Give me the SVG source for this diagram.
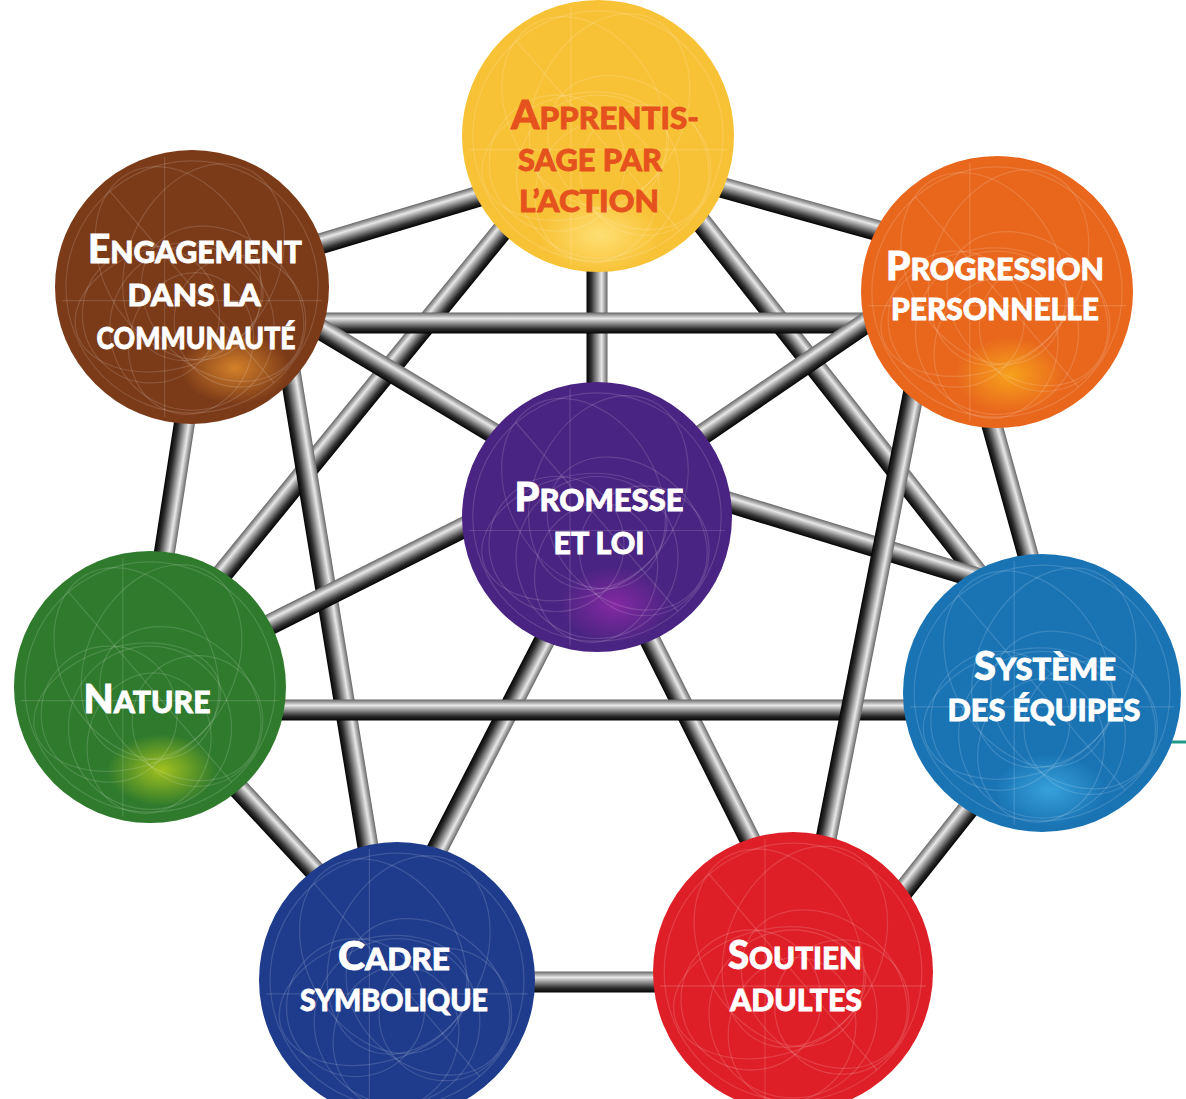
<svg xmlns="http://www.w3.org/2000/svg" width="1186" height="1099" viewBox="0 0 1186 1099">
<style>
.lbl{font-family:Lato,"Open Sans","Liberation Sans",sans-serif;font-weight:900;font-size:31px;fill:#fff;stroke:#fff;stroke-width:.8;text-anchor:middle}
.org{fill:#e5521e;stroke:#e5521e;text-anchor:start}
.big{font-size:40px}
.tube{fill:url(#tubeGrad)}
.tex{fill:none;stroke:#fff;stroke-opacity:.14;stroke-width:.9}
</style>
<defs>
<linearGradient id="tubeGrad" x1="0" y1="0" x2="0" y2="1">
<stop offset="0" stop-color="#666"/>
<stop offset=".28" stop-color="#e8e8e8"/>
<stop offset=".5" stop-color="#959595"/>
<stop offset=".78" stop-color="#2e2e2e"/>
<stop offset="1" stop-color="#030303"/>
</linearGradient>
<radialGradient id="gY"><stop offset="0" stop-color="#ffe27a" stop-opacity=".9"/><stop offset="1" stop-color="#ffe27a" stop-opacity="0"/></radialGradient>
<radialGradient id="gO"><stop offset="0" stop-color="#f8a51c" stop-opacity=".95"/><stop offset="1" stop-color="#f8a51c" stop-opacity="0"/></radialGradient>
<radialGradient id="gB"><stop offset="0" stop-color="#d8842c" stop-opacity=".95"/><stop offset="1" stop-color="#d8842c" stop-opacity="0"/></radialGradient>
<radialGradient id="gP"><stop offset="0" stop-color="#8b2aa6" stop-opacity=".9"/><stop offset="1" stop-color="#8b2aa6" stop-opacity="0"/></radialGradient>
<radialGradient id="gG"><stop offset="0" stop-color="#a8c51e" stop-opacity=".95"/><stop offset="1" stop-color="#a8c51e" stop-opacity="0"/></radialGradient>
<radialGradient id="gL"><stop offset="0" stop-color="#3aa6e0" stop-opacity=".9"/><stop offset="1" stop-color="#3aa6e0" stop-opacity="0"/></radialGradient>
<symbol id="texture" viewBox="-100 -100 200 200">
<g class="tex">
<ellipse cx="0" cy="-20" rx="55" ry="75" transform="rotate(25)"/>
<ellipse cx="0" cy="-20" rx="55" ry="75" transform="rotate(-30)"/>
<ellipse cx="0" cy="30" rx="60" ry="60"/>
<ellipse cx="10" cy="40" rx="45" ry="52" transform="rotate(15)"/>
<ellipse cx="-20" cy="10" rx="70" ry="45" transform="rotate(-15)"/>
<ellipse cx="25" cy="-5" rx="65" ry="50" transform="rotate(40)"/>
<circle cx="0" cy="0" r="92"/>
<circle cx="-30" cy="20" r="50"/>
<circle cx="35" cy="25" r="48"/>
<line x1="-20" y1="-95" x2="-20" y2="95"/>
<line x1="-95" y1="10" x2="95" y2="10"/>
<line x1="-60" y1="-70" x2="60" y2="70"/>
</g>
</symbol>
</defs>
<rect width="1186" height="1099" fill="#fff"/>

<g id="connectors">
<g transform="translate(303,249) rotate(-16.7)"><rect class="tube" x="0" y="-10.5" width="196" height="21"/></g>
<g transform="translate(706,183) rotate(15.5)"><rect class="tube" x="0" y="-10.5" width="192" height="21"/></g>
<g transform="translate(597,250) rotate(90)"><rect class="tube" x="0" y="-10.5" width="150" height="21"/></g>
<g transform="translate(205,595) rotate(-50.8)"><rect class="tube" x="0" y="-10.5" width="490" height="21"/></g>
<g transform="translate(690,208) rotate(51.8)"><rect class="tube" x="0" y="-10.5" width="486" height="21"/></g>
<g transform="translate(300,323)"><rect class="tube" x="0" y="-10.5" width="590" height="21"/></g>
<g transform="translate(305,320) rotate(31)"><rect class="tube" x="0" y="-10.5" width="239" height="21"/></g>
<g transform="translate(188,400) rotate(98.8)"><rect class="tube" x="0" y="-10.5" width="182" height="21"/></g>
<g transform="translate(285,340) rotate(80.7)"><rect class="tube" x="0" y="-10.5" width="536" height="21"/></g>
<g transform="translate(255,632) rotate(-26.6)"><rect class="tube" x="0" y="-10.5" width="257" height="21"/></g>
<g transform="translate(690,443) rotate(-34.3)"><rect class="tube" x="0" y="-10.5" width="237" height="21"/></g>
<g transform="translate(712,497) rotate(17)"><rect class="tube" x="0" y="-10.5" width="296" height="21"/></g>
<g transform="translate(555,620) rotate(117.2)"><rect class="tube" x="0" y="-10.5" width="275" height="21"/></g>
<g transform="translate(640,620) rotate(63.4)"><rect class="tube" x="0" y="-10.5" width="268" height="21"/></g>
<g transform="translate(260,710)"><rect class="tube" x="0" y="-10.5" width="670" height="21"/></g>
<g transform="translate(225,774) rotate(47.2)"><rect class="tube" x="0" y="-10.5" width="147" height="21"/></g>
<g transform="translate(500,982)"><rect class="tube" x="0" y="-10.5" width="190" height="21"/></g>
<g transform="translate(885,914) rotate(-51.6)"><rect class="tube" x="0" y="-10.5" width="171" height="21"/></g>
<g transform="translate(918,370) rotate(101.1)"><rect class="tube" x="0" y="-10.5" width="510" height="21"/></g>
<g transform="translate(985,400) rotate(74.5)"><rect class="tube" x="0" y="-10.5" width="187" height="21"/></g>
<line x1="1163" y1="742" x2="1186" y2="742" stroke="#1f9a86" stroke-width="3"/>
</g>

<g id="node-apprentissage">
<circle cx="598" cy="136" r="136" fill="#f8c236"/>
<ellipse cx="600" cy="235" rx="60" ry="38" fill="url(#gY)"/>
<use href="#texture" x="462" y="0" width="272" height="272" stroke="#fff"/>
<text class="lbl org" x="511" y="129" textLength="188" lengthAdjust="spacingAndGlyphs"><tspan class="big">A</tspan>PPRENTIS-</text>
<text class="lbl org" x="518" y="171" textLength="144" lengthAdjust="spacingAndGlyphs">SAGE PAR</text>
<text class="lbl org" x="519" y="212" textLength="140" lengthAdjust="spacingAndGlyphs">L’ACTION</text>
</g>

<g id="node-progression">
<circle cx="997" cy="292" r="136" fill="#e8671d"/>
<ellipse cx="1010" cy="375" rx="55" ry="38" fill="url(#gO)"/>
<use href="#texture" x="861" y="156" width="272" height="272"/>
<text class="lbl" x="995" y="280" textLength="218" lengthAdjust="spacingAndGlyphs"><tspan class="big">P</tspan>ROGRESSION</text>
<text class="lbl" x="995" y="320" textLength="208" lengthAdjust="spacingAndGlyphs">PERSONNELLE</text>
</g>

<g id="node-engagement">
<circle cx="192" cy="287" r="137" fill="#7b3a18"/>
<ellipse cx="235" cy="368" rx="55" ry="36" fill="url(#gB)"/>
<use href="#texture" x="55" y="150" width="274" height="274"/>
<text class="lbl" x="195" y="263" textLength="214" lengthAdjust="spacingAndGlyphs"><tspan class="big">E</tspan>NGAGEMENT</text>
<text class="lbl" x="194" y="306" textLength="133" lengthAdjust="spacingAndGlyphs">DANS LA</text>
<text class="lbl" x="196" y="349" textLength="199" lengthAdjust="spacingAndGlyphs">COMMUNAUTÉ</text>
</g>

<g id="node-promesse">
<circle cx="597" cy="517" r="135" fill="#4a2482"/>
<ellipse cx="615" cy="605" rx="55" ry="38" fill="url(#gP)"/>
<use href="#texture" x="462" y="382" width="270" height="270"/>
<text class="lbl" x="599" y="511" textLength="169" lengthAdjust="spacingAndGlyphs"><tspan class="big">P</tspan>ROMESSE</text>
<text class="lbl" x="599" y="554" textLength="91" lengthAdjust="spacingAndGlyphs">ET LOI</text>
</g>

<g id="node-nature">
<circle cx="150" cy="687" r="136" fill="#2f7a2d"/>
<ellipse cx="162" cy="770" rx="55" ry="36" fill="url(#gG)"/>
<use href="#texture" x="14" y="551" width="272" height="272"/>
<text class="lbl" x="147" y="713" textLength="127" lengthAdjust="spacingAndGlyphs"><tspan class="big">N</tspan>ATURE</text>
</g>

<g id="node-systeme">
<circle cx="1042" cy="693" r="139" fill="#1a74b4"/>
<ellipse cx="1050" cy="790" rx="55" ry="36" fill="url(#gL)"/>
<use href="#texture" x="903" y="554" width="278" height="278"/>
<text class="lbl" x="1045" y="680" textLength="142" lengthAdjust="spacingAndGlyphs"><tspan class="big">S</tspan>YSTÈME</text>
<text class="lbl" x="1044" y="721" textLength="193" lengthAdjust="spacingAndGlyphs">DES ÉQUIPES</text>
</g>

<g id="node-cadre">
<circle cx="397" cy="980" r="138" fill="#1f3c8c"/>
<use href="#texture" x="259" y="842" width="276" height="276"/>
<text class="lbl" x="394" y="970" textLength="112" lengthAdjust="spacingAndGlyphs"><tspan class="big">C</tspan>ADRE</text>
<text class="lbl" x="394" y="1011" textLength="188" lengthAdjust="spacingAndGlyphs">SYMBOLIQUE</text>
</g>

<g id="node-soutien">
<circle cx="793" cy="972" r="140" fill="#df1f27"/>
<use href="#texture" x="653" y="832" width="280" height="280"/>
<text class="lbl" x="795" y="969" textLength="134" lengthAdjust="spacingAndGlyphs"><tspan class="big">S</tspan>OUTIEN</text>
<text class="lbl" x="796" y="1011" textLength="132" lengthAdjust="spacingAndGlyphs">ADULTES</text>
</g>
</svg>
